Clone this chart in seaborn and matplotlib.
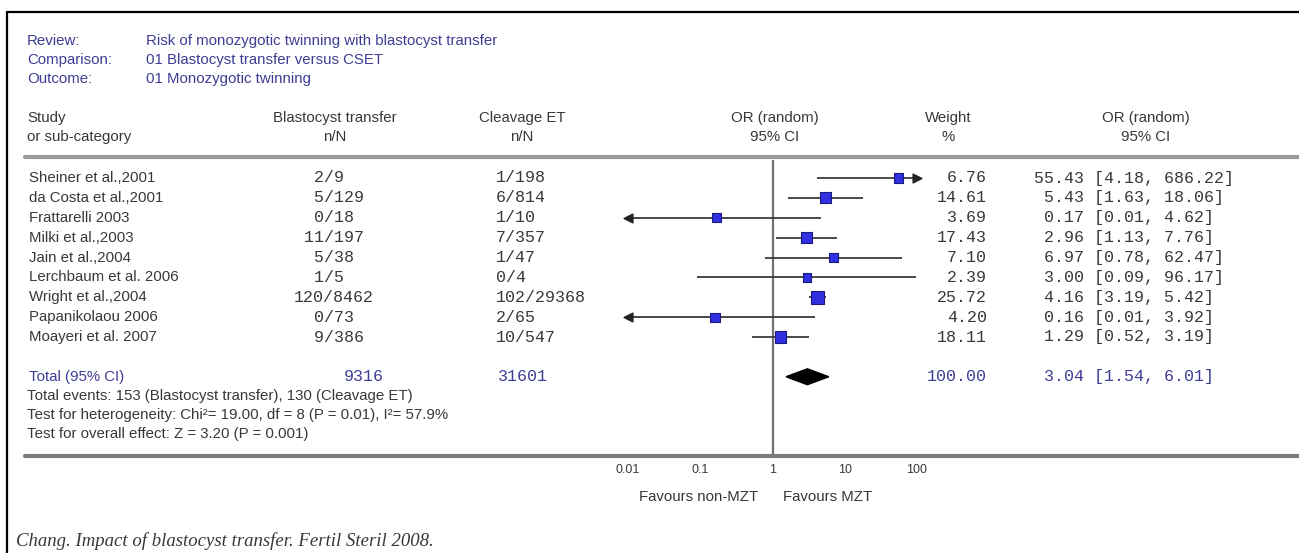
import numpy as np
import pandas as pd
import matplotlib
matplotlib.use("Agg")
import matplotlib.pyplot as plt
import matplotlib.transforms as mtransforms
from matplotlib.lines import Line2D
import seaborn as sns

# ---- data ----
studies = ["Sheiner et al.,2001", "da Costa et al.,2001", "Frattarelli 2003",
           "Milki et al.,2003", "Jain et al.,2004", "Lerchbaum et al. 2006",
           "Wright et al.,2004", "Papanikolaou 2006", "Moayeri et al. 2007"]
blast_n = [2, 5, 0, 11, 5, 1, 120, 0, 9]
blast_N = [9, 129, 18, 197, 38, 5, 8462, 73, 386]
cleav_n = [1, 6, 1, 7, 1, 0, 102, 2, 10]
cleav_N = [198, 814, 10, 357, 47, 4, 29368, 65, 547]
weights = [6.76, 14.61, 3.69, 17.43, 7.10, 2.39, 25.72, 4.20, 18.11]
odds = [55.43, 5.43, 0.17, 2.96, 6.97, 3.00, 4.16, 0.16, 1.29]
ci_lo = [4.18, 1.63, 0.01, 1.13, 0.78, 0.09, 3.19, 0.01, 0.52]
ci_hi = [686.22, 18.06, 4.62, 7.76, 62.47, 96.17, 5.42, 3.92, 3.19]

total_blast_N = 9316
total_cleav_N = 31601
total_weight = 100.00
total_or, total_lo, total_hi = 3.04, 1.54, 6.01
total_events = (153, 130)

xticks = [0.01, 0.1, 1, 10, 100]
xtick_labels = ["0.01", "0.1", "1", "10", "100"]

# ---- figure ----
W, H = 1299, 553
sns.set_style("white")
plt.rcParams["font.family"] = ["Liberation Sans", "DejaVu Sans"]

def fx(px):
    return px / W

def fy(py):
    return 1 - py / H

fig = plt.figure(figsize=(W / 100, H / 100), dpi=100)

txt = "#383838"
navy = "#3d3d94"
mono = "Liberation Mono"
fs = 10.8    # sans text
mfs = 12     # monospaced numbers

# forest axes: 0.01 -> x=628px, 100 -> x=917px ; rows start at y=178px, 19.875px apart
row0, rowstep = 178, 19.875
top_px, bot_px = 160, 456
ax = fig.add_axes([fx(628), fy(bot_px), fx(917) - fx(628), (bot_px - top_px) / H])
ax.set_xscale("log")
ax.set_xlim(xticks[0], xticks[-1])
ax.set_ylim((bot_px - row0) / rowstep, (top_px - row0) / rowstep)
ax.minorticks_off()
for s in ax.spines.values():
    s.set_visible(False)
ax.set_yticks([])
ax.set_xticks(xticks)
ax.set_xticklabels(xtick_labels)
ax.tick_params(axis="x", direction="inout", length=4, width=1, color="#555555",
               labelsize=9, labelcolor=txt, pad=4)
ax.patch.set_alpha(0)

df = pd.DataFrame({"study": studies, "or_": odds, "lo": ci_lo, "hi": ci_hi,
                   "weight": weights, "row": np.arange(len(studies))})
xmin, xmax = xticks[0], xticks[-1]
lo_c = df["lo"].clip(lower=xmin)
hi_c = df["hi"].clip(upper=xmax)

ax.axvline(1, color="#707070", lw=1.6, zorder=1)
ax.hlines(df["row"], lo_c, hi_c, color="#3a3a3a", lw=1.3, zorder=2)

left_arrows = df[df["lo"] <= xmin]
right_arrows = df[df["hi"] >= xmax]
ax.scatter(np.full(len(left_arrows), xmin), left_arrows["row"], marker="<",
           s=40, color="#222222", zorder=3, clip_on=False)
ax.scatter(np.full(len(right_arrows), xmax), right_arrows["row"], marker=">",
           s=40, color="#222222", zorder=3, clip_on=False)

sns.scatterplot(data=df, x="or_", y="row", size="weight", sizes=(40, 85),
                marker="s", color="#3030e0", edgecolor="#1a1a80", linewidth=0.8,
                legend=False, ax=ax, zorder=4)

total_row = len(studies) + 1
dh = 0.4
ax.fill([total_lo, total_or, total_hi, total_or],
        [total_row, total_row - dh, total_row, total_row + dh],
        color="black", zorder=4)
ax.set_xlabel("")
ax.set_ylabel("")

# ---- frame and rules ----
fig.add_artist(Line2D([fx(7), fx(7)], [fy(12), 0], color="black", lw=1.6))
fig.add_artist(Line2D([fx(7), 1], [fy(12), fy(12)], color="black", lw=1.6))
fig.add_artist(Line2D([fx(25), 1], [fy(157), fy(157)], color="#9a9a9a", lw=3))
fig.add_artist(Line2D([fx(25), 1], [fy(456), fy(456)], color="#7a7a7a", lw=3))

# ---- title block ----
for y, lab, val in [(41, "Review:", "Risk of monozygotic twinning with blastocyst transfer"),
                    (60, "Comparison:", "01 Blastocyst transfer versus CSET"),
                    (79, "Outcome:", "01 Monozygotic twinning")]:
    fig.text(fx(27), fy(y), lab, color=navy, fontsize=fs, va="center")
    fig.text(fx(146), fy(y), val, color=navy, fontsize=fs, va="center")

# ---- column headers ----
hdr = [(27, "left", "Study", "or sub-category"),
       (335, "center", "Blastocyst transfer", "n/N"),
       (522, "center", "Cleavage ET", "n/N"),
       (775, "center", "OR (random)", "95% CI"),
       (948, "center", "Weight", "%"),
       (1146, "center", "OR (random)", "95% CI")]
for x, ha, l1, l2 in hdr:
    fig.text(fx(x), fy(118), l1, color=txt, fontsize=fs, ha=ha, va="center")
    fig.text(fx(x), fy(137), l2, color=txt, fontsize=fs, ha=ha, va="center")

# ---- study rows ----
rowtrans = mtransforms.blended_transform_factory(fig.transFigure, ax.transData)
for i, r in df.iterrows():
    fig.text(fx(29), i, r["study"], transform=rowtrans, color=txt, fontsize=fs, va="center")
    fig.text(fx(294), i, f"{blast_n[i]:>3}/{blast_N[i]}", transform=rowtrans,
             color=txt, fontsize=mfs, family=mono, va="center")
    fig.text(fx(496), i, f"{cleav_n[i]}/{cleav_N[i]}", transform=rowtrans,
             color=txt, fontsize=mfs, family=mono, va="center")
    fig.text(fx(987), i, f"{weights[i]:.2f}", transform=rowtrans, color=txt,
             fontsize=mfs, family=mono, ha="right", va="center")
    fig.text(fx(1034), i, f"{odds[i]:5.2f} [{ci_lo[i]:.2f}, {ci_hi[i]:.2f}]",
             transform=rowtrans, color=txt, fontsize=mfs, family=mono, va="center")

# ---- total row ----
fig.text(fx(29), total_row, "Total (95% CI)", transform=rowtrans, color=navy,
         fontsize=fs, va="center")
fig.text(fx(344), total_row, f"{total_blast_N}", transform=rowtrans, color=navy,
         fontsize=mfs, family=mono, va="center")
fig.text(fx(498), total_row, f"{total_cleav_N}", transform=rowtrans, color=navy,
         fontsize=mfs, family=mono, va="center")
fig.text(fx(987), total_row, f"{total_weight:.2f}", transform=rowtrans, color=navy,
         fontsize=mfs, family=mono, ha="right", va="center")
fig.text(fx(1034), total_row, f"{total_or:5.2f} [{total_lo:.2f}, {total_hi:.2f}]",
         transform=rowtrans, color=navy, fontsize=mfs, family=mono, va="center")

foot = [f"Total events: {total_events[0]} (Blastocyst transfer), {total_events[1]} (Cleavage ET)",
        "Test for heterogeneity: Chi\u00b2= 19.00, df = 8 (P = 0.01), I\u00b2= 57.9%",
        "Test for overall effect: Z = 3.20 (P = 0.001)"]
for y, t in zip([396, 415, 434], foot):
    fig.text(fx(27), fy(y), t, color=txt, fontsize=fs, va="center")

# ---- favours labels and source ----
fig.text(fx(758), fy(497), "Favours non-MZT", color=txt, fontsize=fs, ha="right", va="center")
fig.text(fx(783), fy(497), "Favours MZT", color=txt, fontsize=fs, ha="left", va="center")
fig.text(fx(16), fy(541), "Chang. Impact of blastocyst transfer. Fertil Steril 2008.",
         color=txt, fontsize=13.5, family="Liberation Serif", style="italic", va="center")

fig.savefig("out.png", dpi=100)
